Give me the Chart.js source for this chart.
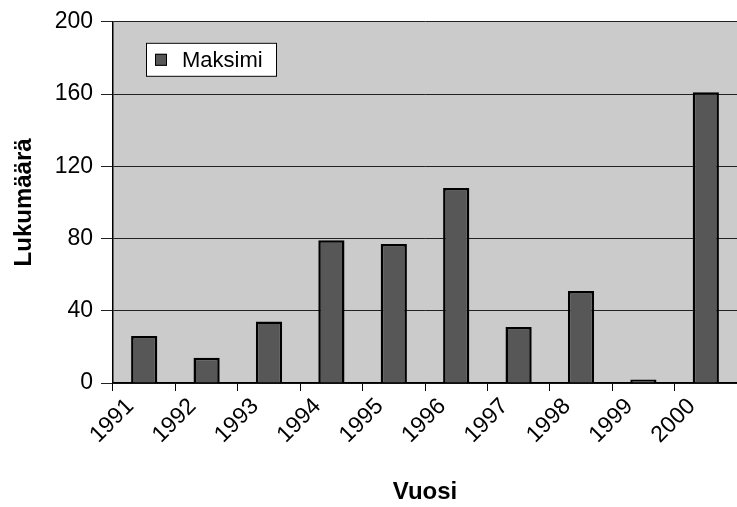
<!DOCTYPE html>
<html>
<head>
<meta charset="utf-8">
<script src="https://cdn.jsdelivr.net/npm/chart.js@4"></script>
<style>
  html, body { margin: 0; padding: 0; background: #fff; }
  #wrap { width: 737px; height: 507px; }
</style>
</head>
<body>
<div id="wrap"><canvas id="myChart" width="737" height="507"></canvas></div>
<script>
const years = ['1991', '1992', '1993', '1994', '1995', '1996', '1997', '1998', '1999', '2000']
const maksimi = [26, 14, 34, 79, 77, 108, 31, 51, 2, 161]
const seriesName = 'Maksimi'
const yTitle = 'Lukumäärä'
const xTitle = 'Vuosi'

const FONT = '"Liberation Sans", Arial, sans-serif'

// grey plot area
const plotBg = {
  id: 'plotBg',
  beforeDraw (chart) {
    const { ctx, chartArea: a } = chart
    ctx.save()
    ctx.fillStyle = '#cbcbcb'
    ctx.fillRect(a.left, a.top, a.right - a.left, a.bottom - a.top)
    ctx.restore()
  }
}

// boxed legend inside the plot
const boxLegend = {
  id: 'boxLegend',
  afterDraw (chart) {
    const { ctx, chartArea: a } = chart
    const ds = chart.data.datasets[0]
    const x = a.left + 33
    const y = a.top + 21
    ctx.save()
    ctx.fillStyle = '#fff'
    ctx.fillRect(x, y, 131, 34)
    ctx.strokeStyle = '#000'
    ctx.lineWidth = 1
    ctx.strokeRect(x + 0.5, y + 0.5, 130, 33)
    ctx.fillStyle = ds.backgroundColor
    ctx.fillRect(x + 9, y + 11, 12, 12)
    ctx.strokeRect(x + 9.5, y + 11.5, 11, 11)
    ctx.fillStyle = '#000'
    ctx.font = '22px ' + FONT
    ctx.textBaseline = 'middle'
    ctx.fillText(ds.label, x + 36, y + 18)
    ctx.restore()
  }
}

new Chart(document.getElementById('myChart'), {
  type: 'bar',
  data: {
    labels: years,
    datasets: [{
      label: seriesName,
      data: maksimi,
      backgroundColor: '#575757',
      borderColor: '#000',
      borderWidth: 2.5,
      barPercentage: 0.42,
      categoryPercentage: 1
    }]
  },
  options: {
    responsive: false,
    animation: false,
    layout: { padding: { top: 19, right: 0, bottom: 0, left: 0 } },
    plugins: {
      legend: { display: false },
      tooltip: { enabled: false }
    },
    scales: {
      x: {
        offset: true,
        grid: { offset: true, drawOnChartArea: false, tickLength: 8, color: '#000' },
        border: { color: '#000', width: 1.5 },
        ticks: {
          color: '#000',
          font: { family: FONT, size: 23 },
          maxRotation: 45,
          minRotation: 45,
          labelOffset: -14,
          padding: 2
        },
        title: {
          display: true,
          text: xTitle,
          color: '#000',
          font: { family: FONT, size: 24, weight: 'bold' },
          padding: { top: 0, bottom: 0 }
        },
        afterFit (scale) { scale.height = 124 }
      },
      y: {
        min: 0,
        max: 200,
        ticks: {
          stepSize: 40,
          color: '#000',
          font: { family: FONT, size: 23 },
          padding: 8
        },
        grid: { color: '#222', lineWidth: 1, tickLength: 12 },
        border: { color: '#000', width: 1.5 },
        title: {
          display: true,
          text: yTitle,
          color: '#000',
          font: { family: FONT, size: 24, weight: 'bold' },
          padding: { top: 10, bottom: 0 }
        },
        afterFit (scale) { scale.width = 113 }
      }
    }
  },
  plugins: [plotBg, boxLegend]
})
</script>
</body>
</html>
